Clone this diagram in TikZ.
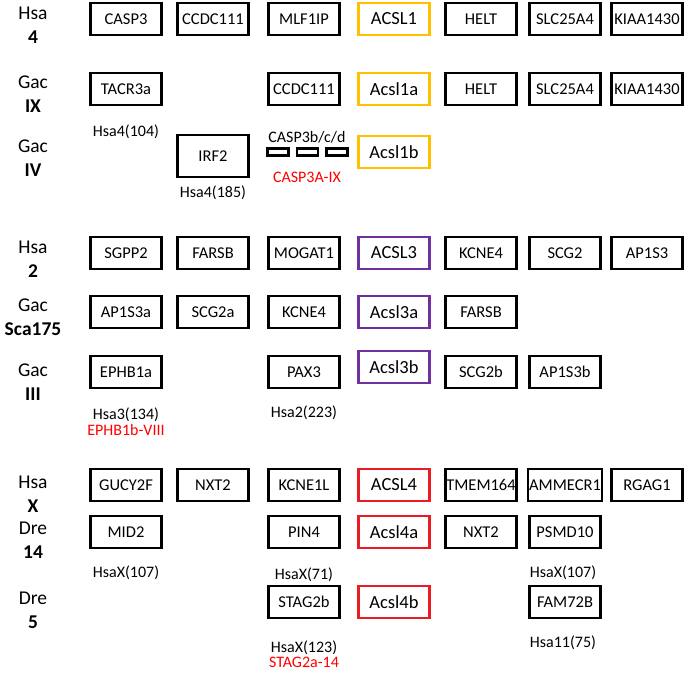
\documentclass[tikz,border=0pt]{standalone}
\usepackage{fontspec}
\setmainfont{Carlito}
\usetikzlibrary{positioning}
\definecolor{acslgold}{RGB}{255,192,0}
\definecolor{acslpurple}{RGB}{112,48,160}
\definecolor{acslred}{RGB}{235,28,36}

\begin{document}
\begin{tikzpicture}[x=1pt, y=-1pt,
  gene/.style={draw, line width=2.6pt, minimum width=71pt, minimum height=32pt,
               inner sep=1pt, font=\fontsize{16.5}{18}\selectfont},
  acsl/.style={gene, line width=2.3pt, font=\fontsize{18.5}{20}\selectfont},
  tinybox/.style={draw, line width=2.4pt, minimum width=21pt, minimum height=7pt, inner sep=0pt},
  chrom/.style={align=center, font=\fontsize{19.5}{24}\selectfont},
  note/.style={font=\fontsize{16}{18}\selectfont, inner sep=0pt},
  rednote/.style={note, text=red}]
  \useasboundingbox (0,0) rectangle (685,673);

  % chromosome labels
  \node[chrom] (hsa4)   at (33,25)    {Hsa\\\textbf{4}};
  \node[chrom] (gac9)   at (33,94.5)  {Gac\\\textbf{IX}};
  \node[chrom] (gac4)   at (33,158.5) {Gac\\\textbf{IV}};
  \node[chrom] (hsa2)   at (33,259.5) {Hsa\\\textbf{2}};
  \node[chrom] (gac175) at (33,317.5) {Gac\\\textbf{Sca175}};
  \node[chrom] (gac3)   at (33,382.5) {Gac\\\textbf{III}};
  \node[chrom] (hsax)   at (33,494.5) {Hsa\\\textbf{X}};
  \node[chrom] (dre14)  at (33,540.5) {Dre\\\textbf{14}};
  \node[chrom] (dre5)   at (33,610.5) {Dre\\\textbf{5}};

  % ACSL1 block
  \node[gene] (casp3)     at (126,19) {CASP3};
  \node[gene] (ccdc111)   at (213,19) {CCDC111};
  \node[gene] (mlf1ip)    at (304,19) {MLF1IP};
  \node[acsl, draw=acslgold] (acsl1) at (394,19) {ACSL1};
  \node[gene] (helt)      at (481,19) {HELT};
  \node[gene] (slc25a4)   at (565,19) {SLC25A4};
  \node[gene] (kiaa1430)  at (647,19) {KIAA1430};

  \node[gene] (tacr3a)    at (126,89) {TACR3a};
  \node[gene] (ccdc111ix) at (304,89) {CCDC111};
  \node[acsl, draw=acslgold] (acsl1a) at (394,89) {Acsl1a};
  \node[gene] (heltix)    at (481,89) {HELT};
  \node[gene] (slc25a4ix) at (565,89) {SLC25A4};
  \node[gene] (kiaaix)    at (647,89) {KIAA1430};
  \node[note] (tacr3anote) at (126,132) {Hsa4(104)};

  \node[gene, minimum height=42pt] (irf2) at (213,156) {IRF2};
  \node[note] (irf2note) at (213,193) {Hsa4(185)};
  \node[tinybox] (casp3b) at (278,152) {};
  \node[tinybox, right=6pt of casp3b] (casp3c) {};
  \node[tinybox, right=6pt of casp3c] (casp3d) {};
  \node[note] (casp3bcd) at (307,137) {CASP3b/c/d};
  \node[rednote] (casp3aix) at (307,177) {CASP3A-IX};
  \node[acsl, draw=acslgold] (acsl1b) at (394,152) {Acsl1b};

  % ACSL3 block
  \node[gene] (sgpp2)     at (126,253) {SGPP2};
  \node[gene] (farsb)     at (213,253) {FARSB};
  \node[gene] (mogat1)    at (304,253) {MOGAT1};
  \node[acsl, draw=acslpurple] (acsl3) at (394,253) {ACSL3};
  \node[gene] (kcne4)     at (481,253) {KCNE4};
  \node[gene] (scg2)      at (565,253) {SCG2};
  \node[gene] (ap1s3)     at (647,253) {AP1S3};

  \node[gene] (ap1s3a)    at (126,312) {AP1S3a};
  \node[gene] (scg2a)     at (213,312) {SCG2a};
  \node[gene] (kcne4gac)  at (304,312) {KCNE4};
  \node[acsl, draw=acslpurple] (acsl3a) at (394,312) {Acsl3a};
  \node[gene] (farsbgac)  at (481,312) {FARSB};

  \node[gene] (ephb1a)    at (126,372) {EPHB1a};
  \node[gene] (pax3)      at (304,372) {PAX3};
  \node[acsl, draw=acslpurple] (acsl3b) at (394,367) {Acsl3b};
  \node[gene] (scg2b)     at (481,372) {SCG2b};
  \node[gene] (ap1s3b)    at (565,372) {AP1S3b};
  \node[note] (ephb1anote) at (126,415) {Hsa3(134)};
  \node[rednote, below=2pt of ephb1anote] (ephb1b) {EPHB1b-VIII};
  \node[note] (pax3note)  at (304,413) {Hsa2(223)};

  % ACSL4 block
  \node[gene] (gucy2f)    at (126,485) {GUCY2F};
  \node[gene] (nxt2)      at (213,485) {NXT2};
  \node[gene] (kcne1l)    at (304,485) {KCNE1L};
  \node[acsl, draw=acslred] (acsl4) at (394,485) {ACSL4};
  \node[gene] (tmem164)   at (481,485) {TMEM164};
  \node[gene] (ammecr1)   at (565,485) {AMMECR1};
  \node[gene] (rgag1)     at (647,485) {RGAG1};

  \node[gene] (mid2)      at (126,532) {MID2};
  \node[gene] (pin4)      at (304,532) {PIN4};
  \node[acsl, draw=acslred] (acsl4a) at (394,532) {Acsl4a};
  \node[gene] (nxt2dre)   at (481,532) {NXT2};
  \node[gene] (psmd10)    at (565,532) {PSMD10};
  \node[note] (mid2note)  at (126,573) {HsaX(107)};
  \node[note] (pin4note)  at (304,575) {HsaX(71)};
  \node[note] (psmd10note) at (563,573) {HsaX(107)};

  \node[gene] (stag2b)    at (304,602) {STAG2b};
  \node[acsl, draw=acslred] (acsl4b) at (394,602) {Acsl4b};
  \node[gene] (fam72b)    at (565,602) {FAM72B};
  \node[note] (stag2bnote) at (304,648) {HsaX(123)};
  \node[rednote, below=2pt of stag2bnote] (stag2a) {STAG2a-14};
  \node[note] (fam72bnote) at (563,643) {Hsa11(75)};
\end{tikzpicture}
\end{document}
